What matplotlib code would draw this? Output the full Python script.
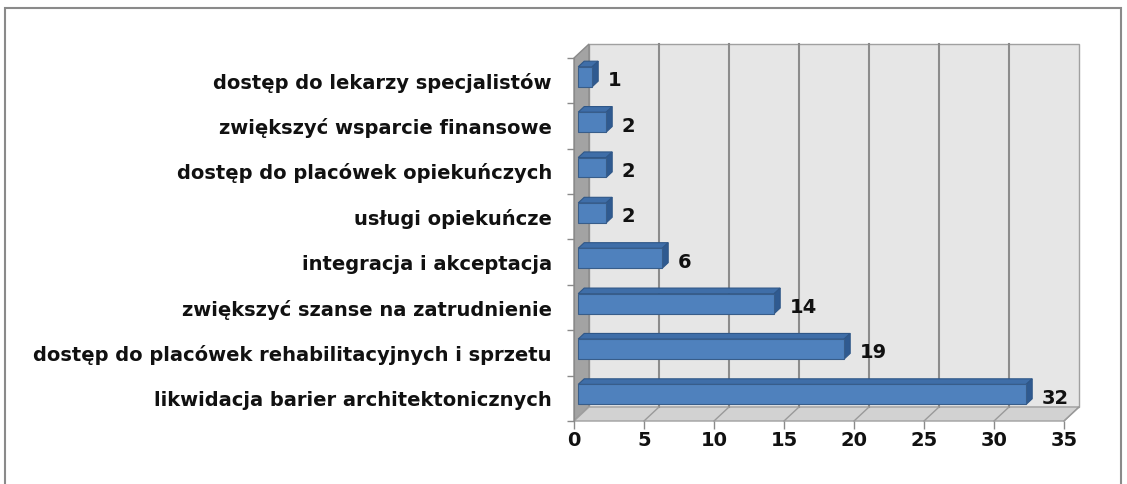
import matplotlib.pyplot as plt
from matplotlib.patches import Polygon, Rectangle

categories = [
    "likwidacja barier architektonicznych",
    "dostęp do placówek rehabilitacyjnych i sprzetu",
    "zwiększyć szanse na zatrudnienie",
    "integracja i akceptacja",
    "usługi opiekuńcze",
    "dostęp do placówek opiekuńczych",
    "zwiększyć wsparcie finansowe",
    "dostęp do lekarzy specjalistów",
]
values = [32, 19, 14, 6, 2, 2, 2, 1]
xticks = [0, 5, 10, 15, 20, 25, 30, 35]

W, H = 1127, 484
fig = plt.figure(figsize=(W / 100, H / 100), dpi=100)
plt.rcParams["font.family"] = ["DejaVu Sans"]
FS = 14

# outer chart frame
fig.patches.append(Rectangle((5 / W, -0.05), 1116 / W, (H - 8) / H + 0.05,
                             transform=fig.transFigure, fill=False,
                             edgecolor="#8a8a8a", linewidth=1.5))

# front plane of the plot area in pixels
x0, x1 = 574, 1064
yb, yt = 421, 58
ax = fig.add_axes([x0 / W, (H - yb) / H, (x1 - x0) / W, (yb - yt) / H])
xmax = 35
n = len(categories)
ax.set_xlim(0, xmax)
ax.set_ylim(-0.5, n - 0.5)

# depth of the 3d box, in data units
dx = 15 / ((x1 - x0) / xmax)
dy = 14 / ((yb - yt) / n)
ylo, yhi = -0.5, n - 0.5

# walls
ax.add_patch(Polygon([(dx, ylo + dy), (xmax + dx, ylo + dy), (xmax + dx, yhi + dy), (dx, yhi + dy)],
                     closed=True, facecolor="#e6e6e6", edgecolor="#a0a0a0", lw=1, clip_on=False, zorder=1))
ax.add_patch(Polygon([(0, ylo), (dx, ylo + dy), (dx, yhi + dy), (0, yhi)],
                     closed=True, facecolor="#a3a3a3", edgecolor="#8a8a8a", lw=1, clip_on=False, zorder=1))
ax.add_patch(Polygon([(0, ylo), (xmax, ylo), (xmax + dx, ylo + dy), (dx, ylo + dy)],
                     closed=True, facecolor="#d2d2d2", edgecolor="#a0a0a0", lw=1, clip_on=False, zorder=1))

# gridlines on back wall and floor
for t in xticks[1:-1]:
    ax.plot([t + dx, t + dx], [ylo + dy, yhi + dy], color="#8c8c8c", lw=1.5, clip_on=False, zorder=2)
for t in xticks[1:]:
    ax.plot([t, t + dx], [ylo, ylo + dy], color="#9a9a9a", lw=1, clip_on=False, zorder=2)

# 3d bars
off = 0.28   # front face depth position
bd = 0.4     # bar depth
hh = 0.22    # half height of the bar
for i, v in enumerate(values):
    fx, fy = off * dx, i + off * dy
    ddx, ddy = bd * dx, bd * dy
    top = [(fx, fy + hh), (fx + v, fy + hh), (fx + v + ddx, fy + hh + ddy), (fx + ddx, fy + hh + ddy)]
    side = [(fx + v, fy - hh), (fx + v + ddx, fy - hh + ddy), (fx + v + ddx, fy + hh + ddy), (fx + v, fy + hh)]
    front = [(fx, fy - hh), (fx + v, fy - hh), (fx + v, fy + hh), (fx, fy + hh)]
    ax.add_patch(Polygon(top, closed=True, facecolor="#3f6ea8", edgecolor="#2f5788", lw=0.8, clip_on=False, zorder=3))
    ax.add_patch(Polygon(side, closed=True, facecolor="#2f5a90", edgecolor="#2f5788", lw=0.8, clip_on=False, zorder=3))
    ax.add_patch(Polygon(front, closed=True, facecolor="#4f81bd", edgecolor="#385d8a", lw=0.8, clip_on=False, zorder=4))
    ax.annotate(str(v), (fx + v + ddx, i), xytext=(7, 0), textcoords="offset points",
                ha="left", va="center", fontsize=FS, fontweight="bold", color="#111111", zorder=5)

for s in ["top", "right"]:
    ax.spines[s].set_visible(False)
ax.spines["bottom"].set_visible(False)
ax.spines["left"].set_color("#8a8a8a")
ax.spines["left"].set_zorder(2)

ax.set_xticks(xticks)
ax.set_xticklabels([str(t) for t in xticks], fontsize=FS, fontweight="bold", color="#111111")
ax.tick_params(axis="x", length=6, color="#8a8a8a", pad=1, width=1)
ax.set_yticks(range(n))
ax.set_yticklabels(categories, fontsize=FS, fontweight="bold", color="#111111")
ax.tick_params(axis="y", length=0, pad=16)
ax.set_yticks([k - 0.5 for k in range(n + 1)], minor=True)
ax.tick_params(axis="y", which="minor", length=5, color="#8a8a8a", width=1)
ax.patch.set_visible(False)

fig.savefig("out.png", dpi=100)
